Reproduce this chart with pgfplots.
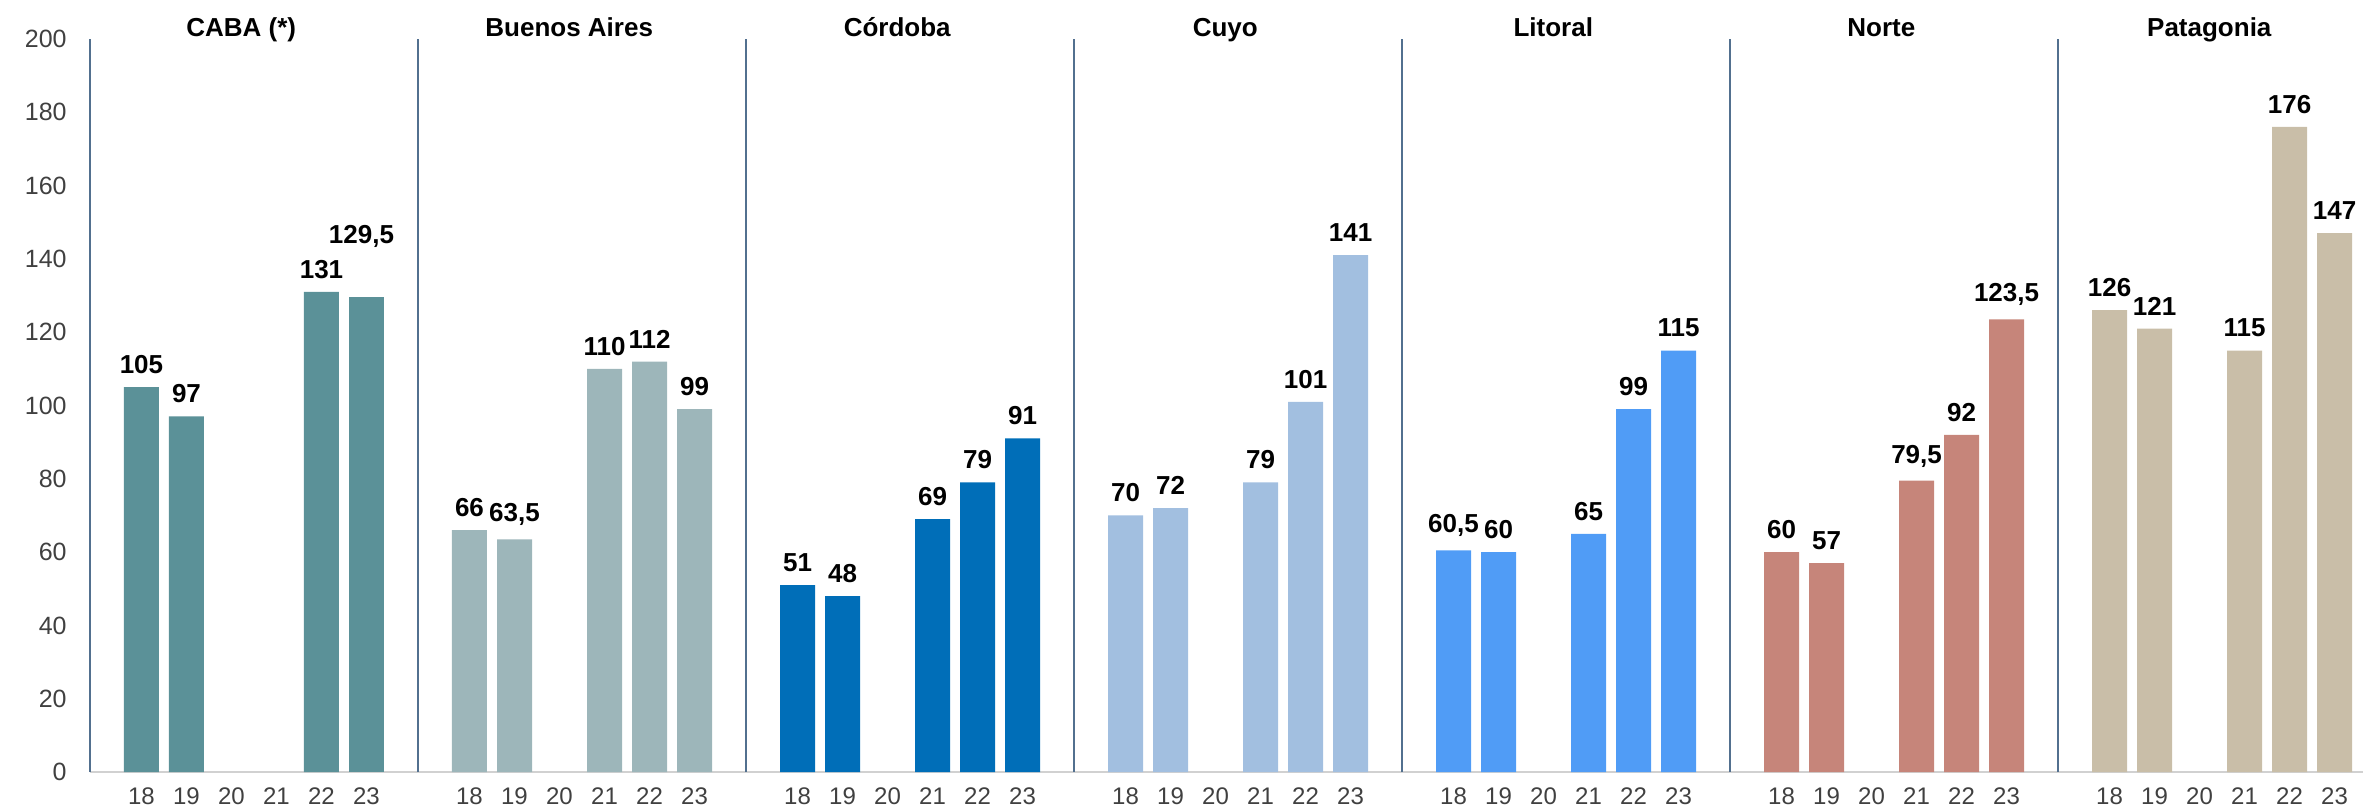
\documentclass[border=0pt]{standalone}
\usepackage{fontspec}
\setmainfont{Liberation Sans}
\usepackage{pgfplots}
\pgfplotsset{compat=1.18}

\definecolor{cCABA}{HTML}{5B9198}
\definecolor{cBA}{HTML}{9DB6BA}
\definecolor{cCBA}{HTML}{006EB8}
\definecolor{cCUYO}{HTML}{A2BFE0}
\definecolor{cLIT}{HTML}{509CF6}
\definecolor{cNOR}{HTML}{C6857A}
\definecolor{cPAT}{HTML}{C9BEA8}
\definecolor{sepline}{HTML}{52708F}
\definecolor{ticktext}{HTML}{404040}

\tikzset{
  sep/.style={color=sepline, line width=0.9pt},
  ttl/.style={anchor=base, inner sep=0pt, yshift=1.5pt, font=\bfseries\fontsize{13}{15}\selectfont},
}

% group width in bar slots: 7.289; first bar of each group sits 1.144 slots after its separator
\begin{document}
\begin{tikzpicture}
\useasboundingbox (0,0) rectangle (1181.5pt,405pt);
\begin{axis}[
  at={(45pt,19pt)}, anchor=south west,
  scale only axis, width=1136.5pt, height=366.5pt,
  xmin=0, xmax=50.51, ymin=0, ymax=200,
  ytick={0,20,...,200},
  xtick={1.144,2.144,3.144,4.144,5.144,6.144,
         8.433,9.433,10.433,11.433,12.433,13.433,
         15.722,16.722,17.722,18.722,19.722,20.722,
         23.011,24.011,25.011,26.011,27.011,28.011,
         30.300,31.300,32.300,33.300,34.300,35.300,
         37.589,38.589,39.589,40.589,41.589,42.589,
         44.878,45.878,46.878,47.878,48.878,49.878},
  xticklabels={18,19,20,21,22,23,18,19,20,21,22,23,18,19,20,21,22,23,
               18,19,20,21,22,23,18,19,20,21,22,23,18,19,20,21,22,23,
               18,19,20,21,22,23},
  axis line style={draw=none},
  major tick length=0pt,
  /pgf/number format/assume math mode=true,
  /pgf/number format/.cd, use comma, fixed, precision=1, 1000 sep={},
  /pgfplots/.cd,
  ticklabel style={text=ticktext, inner sep=0pt},
  yticklabel style={font=\fontsize{12.5}{15}\selectfont, xshift=-11.5pt},
  xticklabel style={font=\fontsize{12}{14}\selectfont, yshift=-7.5pt},
  every node near coord/.append style={font=\bfseries\fontsize{13}{15}\selectfont,
      text=black, anchor=south, inner sep=0pt, yshift=6.5pt},
  clip=false,
]
% baseline and group separators
\draw[color=black!18, line width=1pt] (axis cs:0,0) -- (axis cs:50.51,0);
\draw[sep] (axis cs:0,0) -- (axis cs:0,200);
\draw[sep] (axis cs:7.289,0) -- (axis cs:7.289,200);
\draw[sep] (axis cs:14.578,0) -- (axis cs:14.578,200);
\draw[sep] (axis cs:21.867,0) -- (axis cs:21.867,200);
\draw[sep] (axis cs:29.156,0) -- (axis cs:29.156,200);
\draw[sep] (axis cs:36.445,0) -- (axis cs:36.445,200);
\draw[sep] (axis cs:43.734,0) -- (axis cs:43.734,200);

\addplot[ybar, bar width=17.5pt, fill=cCABA, draw=none, nodes near coords]
  coordinates {(1.144,105) (2.144,97) (5.144,131)};
\addplot[ybar, bar width=17.5pt, fill=cCABA, draw=none, nodes near coords,
  nodes near coords style={yshift=18pt, xshift=-2.5pt}]
  coordinates {(6.144,129.5)};

\addplot[ybar, bar width=17.5pt, fill=cBA, draw=none, nodes near coords]
  coordinates {(8.433,66) (9.433,63.5) (11.433,110) (12.433,112) (13.433,99)};

\addplot[ybar, bar width=17.5pt, fill=cCBA, draw=none, nodes near coords]
  coordinates {(15.722,51) (16.722,48) (18.722,69) (19.722,79) (20.722,91)};

\addplot[ybar, bar width=17.5pt, fill=cCUYO, draw=none, nodes near coords]
  coordinates {(23.011,70) (24.011,72) (26.011,79) (27.011,101) (28.011,141)};

\addplot[ybar, bar width=17.5pt, fill=cLIT, draw=none, nodes near coords]
  coordinates {(30.300,60.5) (31.300,60) (33.300,65) (34.300,99) (35.300,115)};

\addplot[ybar, bar width=17.5pt, fill=cNOR, draw=none, nodes near coords]
  coordinates {(37.589,60) (38.589,57) (40.589,79.5) (41.589,92) (42.589,123.5)};

\addplot[ybar, bar width=17.5pt, fill=cPAT, draw=none, nodes near coords]
  coordinates {(44.878,126) (45.878,121) (47.878,115) (48.878,176) (49.878,147)};

% region titles
\node[ttl] at (axis cs:3.36,200) {CABA (*)};
\node[ttl] at (axis cs:10.649,200) {Buenos Aires};
\node[ttl] at (axis cs:17.938,200) {Córdoba};
\node[ttl] at (axis cs:25.227,200) {Cuyo};
\node[ttl] at (axis cs:32.516,200) {Litoral};
\node[ttl] at (axis cs:39.805,200) {Norte};
\node[ttl] at (axis cs:47.094,200) {Patagonia};
\end{axis}
\end{tikzpicture}
\end{document}
